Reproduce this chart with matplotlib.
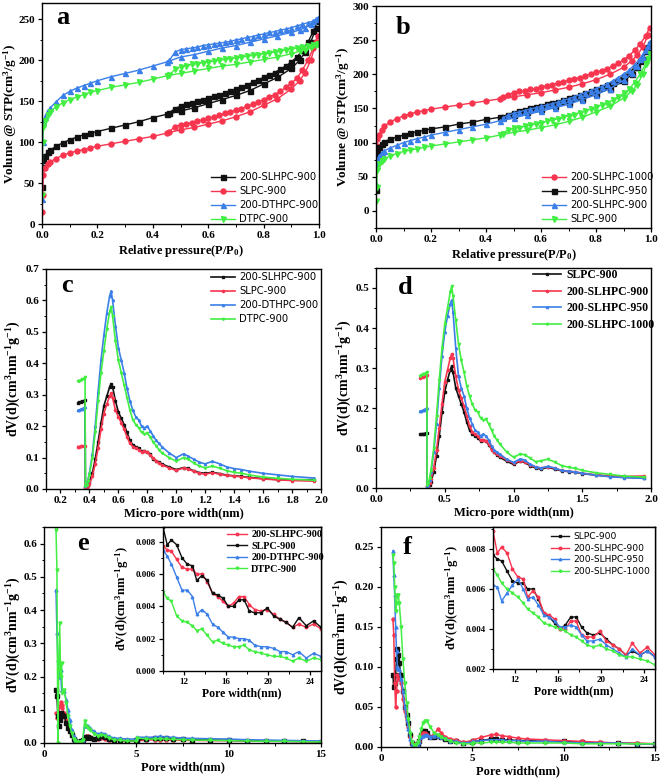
import numpy as np
import matplotlib
matplotlib.use("Agg")
import matplotlib.pyplot as plt
from matplotlib.ticker import MultipleLocator

plt.rcParams['font.family'] = ['Liberation Serif', 'DejaVu Serif']
plt.rcParams['font.weight'] = 'bold'
plt.rcParams['mathtext.fontset'] = 'custom'
plt.rcParams['mathtext.rm'] = 'Liberation Serif:bold'
plt.rcParams['mathtext.bf'] = 'Liberation Serif:bold'
plt.rcParams['mathtext.default'] = 'rm'

# ---------------- data: N2 isotherms ----------------
ADS_P = [0.0005, 0.002, 0.005, 0.01, 0.02, 0.03, 0.05, 0.075, 0.1, 0.125, 0.15, 0.175, 0.2, 0.25, 0.3,
         0.35, 0.4, 0.45, 0.5, 0.55, 0.6, 0.65, 0.7, 0.75, 0.8, 0.85, 0.9, 0.93, 0.95, 0.97, 0.99]
DES_P = [0.995, 0.98, 0.96, 0.94, 0.92, 0.9, 0.88, 0.86, 0.84, 0.82, 0.8, 0.78, 0.76, 0.74, 0.72, 0.7,
         0.68, 0.66, 0.64, 0.62, 0.6, 0.58, 0.56, 0.54, 0.52, 0.5, 0.48, 0.46]

SLHPC900_ADS = [45, 70, 78, 83, 88, 90, 95, 99, 103, 106, 109, 111, 113, 117, 121, 125, 130, 134, 138, 142,
                147, 152, 157, 163, 171, 179, 190, 200, 210, 222, 240]
SLHPC900_DES = [248, 236, 222, 212, 204, 198, 193, 189, 185, 182, 179, 176, 173, 170, 167, 165, 162, 160,
                158, 156, 154, 152, 150, 148, 146, 144, 141, 136]
SLPC900_ADS = [15, 35, 60, 68, 73, 76, 80, 84, 87, 89, 91, 93, 95, 98, 101, 104, 107, 111, 115, 118, 122,
               126, 131, 137, 145, 153, 165, 175, 185, 200, 222]
SLPC900_DES = [230, 215, 200, 188, 178, 172, 167, 162, 158, 155, 152, 149, 146, 144, 141, 139, 137, 135,
               133, 131, 129, 127, 126, 124, 122, 121, 119, 113]
DTHPC900_ADS = [30, 100, 125, 131, 138, 142, 149, 157, 162, 166, 169, 172, 175, 180, 184, 188, 193, 198,
                204, 207, 211, 215, 218, 222, 226, 230, 234, 237, 240, 244, 250]
DTHPC900_DES = [252, 248, 246, 244, 242, 240, 238, 237, 235, 234, 232, 231, 229, 228, 226, 225, 223, 222,
                221, 220, 219, 218, 216, 215, 214, 213, 210, 200]
DTPC900_ADS = [35, 100, 118, 126, 133, 137, 143, 148, 152, 155, 158, 161, 163, 167, 170, 173, 177, 181,
               184, 187, 190, 193, 195, 198, 201, 204, 208, 211, 213, 216, 219]
DTPC900_DES = [220, 219, 218, 216, 215, 214, 213, 211, 210, 209, 208, 207, 206, 205, 204, 203, 202, 201,
               200, 199, 198, 197, 196, 195, 193, 192, 189, 182]
SLHPC1000_ADS = [70, 95, 105, 111, 119, 124, 130, 135, 139, 142, 145, 147, 149, 152, 155, 158, 161, 164,
                 167, 170, 173, 177, 181, 186, 192, 200, 210, 220, 228, 240, 258]
SLHPC1000_DES = [268, 256, 244, 235, 227, 221, 216, 212, 208, 205, 203, 200, 198, 195, 193, 191, 189, 187,
                 185, 183, 181, 179, 178, 176, 175, 173, 170, 167]
SLHPC950_ADS = [30, 80, 88, 93, 98, 101, 105, 108, 111, 114, 116, 118, 120, 123, 127, 130, 134, 137, 141,
                145, 149, 153, 158, 164, 171, 179, 190, 200, 210, 222, 240]
SLHPC950_DES = [245, 234, 220, 210, 202, 197, 192, 188, 184, 181, 178, 175, 172, 169, 167, 165, 162, 160,
                158, 156, 154, 152, 150, 148, 146, 144, 141, 138]
SLHPC900B_ADS = [40, 70, 76, 80, 85, 88, 92, 96, 100, 103, 106, 108, 111, 115, 119, 123, 127, 132, 136, 141,
                 146, 151, 156, 163, 170, 179, 191, 202, 212, 225, 242]
SLHPC900B_DES = [248, 236, 223, 214, 206, 200, 195, 190, 186, 182, 179, 176, 173, 170, 167, 164, 162, 159,
                 157, 155, 153, 151, 149, 147, 145, 143, 140, 136]

# ---------------- data: micropore PSD (panels c, d) ----------------
MICRO_W = [0.32, 0.33, 0.34, 0.35, 0.36, 0.37, 0.372, 0.38, 0.39, 0.40, 0.42, 0.44, 0.46, 0.48, 0.50, 0.52,
           0.54, 0.55, 0.56, 0.58, 0.60, 0.62, 0.64, 0.66, 0.68, 0.70, 0.72, 0.74, 0.76, 0.78, 0.80, 0.82,
           0.84, 0.86, 0.88, 0.90, 0.95, 1.00, 1.05, 1.08, 1.12, 1.16, 1.20, 1.25, 1.30, 1.35, 1.40, 1.45,
           1.50, 1.60, 1.70, 1.80, 1.95]
MIC_SLHPC900 = [0.275, 0.277, 0.278, 0.279, 0.280, 0.283, 0.005, 0.006, 0.012, 0.022, 0.05, 0.095, 0.15, 0.21,
                0.265, 0.295, 0.325, 0.335, 0.325, 0.28, 0.245, 0.225, 0.205, 0.18, 0.155, 0.14, 0.135, 0.13,
                0.12, 0.12, 0.118, 0.11, 0.095, 0.09, 0.085, 0.08, 0.07, 0.062, 0.068, 0.066, 0.058, 0.052,
                0.05, 0.053, 0.049, 0.044, 0.042, 0.04, 0.037, 0.033, 0.03, 0.029, 0.03]
MIC_SLPC900 = [0.135, 0.135, 0.136, 0.136, 0.137, 0.138, 0.004, 0.004, 0.008, 0.015, 0.04, 0.08, 0.13, 0.19,
               0.24, 0.27, 0.295, 0.305, 0.29, 0.25, 0.23, 0.21, 0.19, 0.165, 0.145, 0.135, 0.13, 0.125, 0.118,
               0.12, 0.117, 0.108, 0.098, 0.09, 0.082, 0.077, 0.067, 0.059, 0.067, 0.064, 0.056, 0.05, 0.047,
               0.052, 0.047, 0.043, 0.041, 0.039, 0.036, 0.032, 0.029, 0.027, 0.025]
MIC_DTHPC900 = [0.250, 0.252, 0.254, 0.256, 0.258, 0.262, 0.01, 0.015, 0.03, 0.05, 0.11, 0.2, 0.31, 0.41,
                0.49, 0.56, 0.615, 0.63, 0.6, 0.52, 0.45, 0.41, 0.37, 0.32, 0.28, 0.25, 0.23, 0.22, 0.2, 0.195,
                0.2, 0.185, 0.17, 0.155, 0.145, 0.135, 0.115, 0.1, 0.112, 0.105, 0.095, 0.085, 0.08, 0.088,
                0.08, 0.07, 0.065, 0.062, 0.057, 0.05, 0.045, 0.04, 0.035]
MIC_DTPC900 = [0.343, 0.345, 0.347, 0.349, 0.351, 0.355, 0.01, 0.014, 0.027, 0.045, 0.1, 0.18, 0.28, 0.37,
               0.44, 0.51, 0.565, 0.58, 0.55, 0.47, 0.41, 0.37, 0.33, 0.29, 0.25, 0.22, 0.205, 0.195, 0.18,
               0.175, 0.178, 0.165, 0.15, 0.138, 0.125, 0.115, 0.1, 0.088, 0.1, 0.095, 0.083, 0.073, 0.067,
               0.073, 0.066, 0.058, 0.053, 0.05, 0.045, 0.038, 0.034, 0.031, 0.028]
MIC_SLHPC950 = [0.192, 0.193, 0.194, 0.196, 0.198, 0.200, 0.005, 0.008, 0.02, 0.04, 0.09, 0.16, 0.25, 0.33,
                0.39, 0.43, 0.46, 0.47, 0.44, 0.35, 0.28, 0.25, 0.23, 0.2, 0.175, 0.16, 0.145, 0.14, 0.13,
                0.135, 0.13, 0.12, 0.105, 0.095, 0.09, 0.085, 0.072, 0.064, 0.073, 0.07, 0.06, 0.053, 0.05,
                0.054, 0.05, 0.044, 0.042, 0.04, 0.037, 0.032, 0.028, 0.026, 0.024]
MIC_SLHPC1000 = [0.280, 0.282, 0.284, 0.285, 0.287, 0.290, 0.008, 0.013, 0.025, 0.045, 0.1, 0.18, 0.27, 0.35,
                 0.41, 0.45, 0.49, 0.505, 0.48, 0.42, 0.36, 0.32, 0.29, 0.255, 0.23, 0.21, 0.195, 0.19, 0.175,
                 0.17, 0.172, 0.16, 0.145, 0.13, 0.12, 0.11, 0.09, 0.077, 0.085, 0.083, 0.075, 0.066, 0.068,
                 0.072, 0.065, 0.056, 0.052, 0.049, 0.044, 0.038, 0.034, 0.03, 0.027]

# ---------------- data: full PSD (panels e, f) ----------------
PORE_W = [0.65, 0.7, 0.75, 0.8, 0.85, 0.9, 0.95, 1.0, 1.1, 1.2, 1.3, 1.4, 1.5, 1.6, 1.7, 1.8, 1.9, 2.0,
          2.1, 2.2, 2.3, 2.4, 2.5, 2.7, 2.9, 3.1, 3.3, 3.5, 3.8, 4.1, 4.5, 5.0, 5.05, 5.5, 6.0, 6.3, 6.6,
          7.0, 7.5, 8.0, 9.0, 10.0, 11.0, 12.0, 13.0, 14.0, 15.0]
PSD_SLHPC900 = [0.16, 0.14, 0.08, 0.05, 0.07, 0.09, 0.085, 0.085, 0.08, 0.06, 0.045, 0.035, 0.025, 0.012,
                0.005, 0.002, 0.003, 0.005, 0.008, 0.015, 0.018, 0.017, 0.015, 0.012, 0.016, 0.022, 0.018,
                0.013, 0.01, 0.009, 0.006, 0.008, 0.009, 0.012, 0.015, 0.016, 0.014, 0.013, 0.011, 0.01,
                0.009, 0.008, 0.007, 0.006, 0.005, 0.005, 0.004]
PSD_SLPC900 = [0.09, 0.075, 0.08, 0.09, 0.11, 0.122, 0.115, 0.105, 0.09, 0.07, 0.05, 0.04, 0.03, 0.015,
               0.005, 0.002, 0.003, 0.004, 0.007, 0.015, 0.02, 0.02, 0.018, 0.012, 0.012, 0.014, 0.013, 0.01,
               0.008, 0.007, 0.005, 0.006, 0.007, 0.008, 0.01, 0.01, 0.009, 0.009, 0.008, 0.008, 0.007,
               0.007, 0.006, 0.005, 0.005, 0.004, 0.004]
PSD_DTHPC900 = [0.46, 0.33, 0.25, 0.22, 0.2, 0.22, 0.16, 0.16, 0.155, 0.13, 0.1, 0.07, 0.04, 0.02, 0.008,
                0.005, 0.004, 0.004, 0.01, 0.05, 0.055, 0.05, 0.045, 0.035, 0.028, 0.03, 0.028, 0.02, 0.015,
                0.014, 0.012, 0.012, 0.018, 0.017, 0.018, 0.02, 0.018, 0.017, 0.015, 0.014, 0.013, 0.012,
                0.01, 0.009, 0.008, 0.007, 0.006]
PSD_DTPC900 = [0.64, 0.52, 0.0, 0.22, 0.36, 0.2, 0.24, 0.15, 0.16, 0.12, 0.08, 0.05, 0.03, 0.012, 0.005,
               0.003, 0.003, 0.004, 0.01, 0.065, 0.05, 0.045, 0.04, 0.028, 0.022, 0.025, 0.022, 0.015, 0.01,
               0.008, 0.006, 0.006, 0.015, 0.012, 0.012, 0.013, 0.012, 0.011, 0.01, 0.009, 0.008, 0.007,
               0.006, 0.005, 0.005, 0.004, 0.003]
PSD_SLHPC950 = [0.245, 0.215, 0.19, 0.15, 0.12, 0.1, 0.098, 0.097, 0.085, 0.07, 0.05, 0.035, 0.022, 0.01,
                0.004, 0.002, 0.002, 0.003, 0.006, 0.012, 0.014, 0.015, 0.015, 0.013, 0.014, 0.014, 0.013,
                0.011, 0.008, 0.007, 0.005, 0.006, 0.007, 0.008, 0.009, 0.009, 0.009, 0.008, 0.008, 0.007,
                0.007, 0.006, 0.005, 0.005, 0.005, 0.004, 0.004]
PSD_SLHPC1000 = [0.24, 0.23, 0.2, 0.17, 0.18, 0.19, 0.19, 0.18, 0.15, 0.11, 0.08, 0.055, 0.035, 0.018,
                 0.006, 0.002, 0.003, 0.006, 0.012, 0.022, 0.03, 0.033, 0.033, 0.025, 0.018, 0.015, 0.013,
                 0.01, 0.007, 0.005, 0.004, 0.004, 0.005, 0.005, 0.006, 0.006, 0.006, 0.006, 0.005, 0.005,
                 0.005, 0.005, 0.004, 0.004, 0.004, 0.004, 0.004]

# ---------------- data: insets (10-25 nm) ----------------
INSET_W = [10.0, 10.4, 10.8, 11.3, 11.8, 12.3, 12.8, 13.2, 13.7, 14.2, 14.7, 15.2, 15.7, 16.2, 16.7, 17.2,
           17.7, 18.2, 18.7, 19.3, 19.9, 20.5, 21.1, 21.7, 22.3, 22.9, 23.6, 24.3, 25.0]
INS_A = [0.0089, 0.0078, 0.0081, 0.0078, 0.0070, 0.0066, 0.0065, 0.0056, 0.0059, 0.0056, 0.0048, 0.0047,
         0.0045, 0.0040, 0.0040, 0.0044, 0.0044, 0.0037, 0.0036, 0.0036, 0.0039, 0.0034, 0.0032, 0.0030,
         0.0027, 0.0033, 0.0028, 0.0031, 0.0027]
INS_B = [0.0077, 0.0075, 0.0074, 0.0069, 0.0064, 0.0063, 0.0063, 0.0060, 0.0060, 0.0055, 0.0048, 0.0046,
         0.0043, 0.0040, 0.0042, 0.0046, 0.0046, 0.0041, 0.0038, 0.0037, 0.0038, 0.0035, 0.0032, 0.0030,
         0.0027, 0.0029, 0.0027, 0.0029, 0.0026]
INS_DTHPC900 = [0.0075, 0.0071, 0.0066, 0.0058, 0.0050, 0.0050, 0.0046, 0.0035, 0.0038, 0.0035, 0.0029,
                0.0027, 0.0024, 0.0021, 0.0021, 0.0020, 0.0020, 0.0019, 0.0016, 0.0015, 0.0015, 0.0014,
                0.0012, 0.0012, 0.0010, 0.0012, 0.0008, 0.0011, 0.0009]
INS_DTPC900 = [0.0049, 0.0045, 0.0043, 0.0034, 0.0031, 0.0030, 0.0028, 0.0025, 0.0026, 0.0022, 0.0018,
               0.0019, 0.0017, 0.0016, 0.0015, 0.0015, 0.0016, 0.0013, 0.0012, 0.0011, 0.0010, 0.0009,
               0.0009, 0.0008, 0.0006, 0.0008, 0.0006, 0.0008, 0.0007]
INS_SLHPC950 = [0.0062, 0.0061, 0.0054, 0.0058, 0.0062, 0.0065, 0.0060, 0.0055, 0.0056, 0.0052, 0.0047,
                0.0046, 0.0044, 0.0041, 0.0041, 0.0042, 0.0041, 0.0037, 0.0034, 0.0034, 0.0035, 0.0032,
                0.0030, 0.0028, 0.0026, 0.0030, 0.0027, 0.0029, 0.0026]
INS_SLHPC1000 = [0.0070, 0.0067, 0.0063, 0.0060, 0.0058, 0.0056, 0.0053, 0.0050, 0.0048, 0.0046, 0.0043,
                 0.0042, 0.0041, 0.0040, 0.0039, 0.0037, 0.0036, 0.0034, 0.0032, 0.0031, 0.0032, 0.0030,
                 0.0029, 0.0027, 0.0026, 0.0026, 0.0025, 0.0024, 0.0022]

BLACK = '#111111'
RED = '#f8354f'
BLUE = '#3b7fe8'
GREEN = '#42ee42'

W, H = 661, 779
fig = plt.figure(figsize=(W / 100, H / 100), dpi=100)


def add_ax(l, t, r, b):
    return fig.add_axes([l / W, 1 - b / H, (r - l) / W, (b - t) / H])


def style(ax, xmaj, xmin, ymaj, ymin, tsize=8):
    ax.xaxis.set_major_locator(MultipleLocator(xmaj))
    ax.xaxis.set_minor_locator(MultipleLocator(xmin))
    ax.yaxis.set_major_locator(MultipleLocator(ymaj))
    ax.yaxis.set_minor_locator(MultipleLocator(ymin))
    ax.tick_params(which='major', direction='out', length=3, width=0.9, labelsize=tsize, pad=2,
                   top=False, right=False)
    ax.tick_params(which='minor', direction='out', length=1.8, width=0.7, top=False, right=False)
    for s in ax.spines.values():
        s.set_linewidth(1.0)
    for lab in ax.get_xticklabels() + ax.get_yticklabels():
        lab.set_fontweight('bold')


def ylab(ax, text, size, right_px, top, bottom):
    ax.set_ylabel(text, fontsize=size, fontweight='bold')
    ax.yaxis.set_label_coords(right_px / W, 1 - (top + bottom) / 2 / H, transform=fig.transFigure)


def legend(ax, x, y, fam, weight, size, spacing, hl=2.4):
    leg = ax.legend(loc='upper left', bbox_to_anchor=(x / W, 1 - y / H), bbox_transform=fig.transFigure,
                    frameon=False, handlelength=hl, handletextpad=0.4, borderpad=0, borderaxespad=0,
                    labelspacing=spacing, prop={'family': fam, 'weight': weight, 'size': size})
    return leg


VOL_LABEL = r'Volume @ STP(cm$^{3}$/g$^{-1}$)'
DV_LABEL = r'dV(d)(cm$^{3}$nm$^{-1}$g$^{-1}$)'
iso_kw = dict(lw=1.0, ms=3.6)

# ---------------- panel a ----------------
ax = add_ax(42, 3, 319, 224)
for ads, des, c, m, lab in [(SLHPC900_ADS, SLHPC900_DES, BLACK, 's', '200-SLHPC-900'),
                            (SLPC900_ADS, SLPC900_DES, RED, 'o', 'SLPC-900'),
                            (DTHPC900_ADS, DTHPC900_DES, BLUE, '^', '200-DTHPC-900'),
                            (DTPC900_ADS, DTPC900_DES, GREEN, 'v', 'DTPC-900')]:
    ax.plot(ADS_P, ads, color=c, marker=m, label=lab, **iso_kw)
    ax.plot(DES_P, des, color=c, marker=m, **iso_kw)
ax.set_xlim(0, 1.0)
ax.set_ylim(0, 270)
style(ax, 0.2, 0.1, 50, 25)
ax.set_xlabel('Relative pressure(P/P$_{0}$)', fontsize=9, fontweight='bold', labelpad=2)
ylab(ax, VOL_LABEL, 9.5, 19, 3, 224)
legend(ax, 211, 172, 'DejaVu Sans', 'normal', 7.2, 0.4)
fig.text(63 / W, 1 - 18 / H, 'a', fontsize=19, fontweight='bold', ha='center', va='center')

# ---------------- panel b ----------------
ax = add_ax(376, 6, 651, 228)
for ads, des, c, m, lab in [(SLHPC1000_ADS, SLHPC1000_DES, RED, 'o', '200-SLHPC-1000'),
                            (SLHPC950_ADS, SLHPC950_DES, BLACK, 's', '200-SLHPC-950'),
                            (SLHPC900B_ADS, SLHPC900B_DES, BLUE, '^', '200-SLHPC-900'),
                            (SLPC900_ADS, SLPC900_DES, GREEN, 'v', 'SLPC-900')]:
    ax.plot(ADS_P, ads, color=c, marker=m, label=lab, **iso_kw)
    ax.plot(DES_P, des, color=c, marker=m, **iso_kw)
ax.set_xlim(0, 1.0)
ax.set_ylim(-25, 300)
style(ax, 0.2, 0.1, 50, 25)
ax.set_xlabel('Relative pressure(P/P$_{0}$)', fontsize=9, fontweight='bold', labelpad=2)
ylab(ax, VOL_LABEL, 9.5, 352, 6, 228)
legend(ax, 542, 172, 'DejaVu Sans', 'normal', 7.2, 0.4)
fig.text(403 / W, 1 - 27 / H, 'b', fontsize=19, fontweight='bold', ha='center', va='center')

psd_kw = dict(lw=1.2, ms=1.6)

# ---------------- panel c ----------------
ax = add_ax(46, 269, 321, 489)
for y, c, m, lab in [(MIC_SLHPC900, BLACK, 's', '200-SLHPC-900'), (MIC_SLPC900, RED, 'o', 'SLPC-900'),
                     (MIC_DTHPC900, BLUE, '^', '200-DTHPC-900'), (MIC_DTPC900, GREEN, 'v', 'DTPC-900')]:
    ax.plot(MICRO_W, y, color=c, marker=m, label=lab, **psd_kw)
ax.set_xlim(0.1, 2.0)
ax.set_ylim(0, 0.7)
style(ax, 0.2, 0.1, 0.1, 0.05)
ax.set_xlabel('Micro-pore width(nm)', fontsize=9, fontweight='bold', labelpad=2)
ylab(ax, DV_LABEL, 10, 23, 269, 489)
legend(ax, 211, 272, 'DejaVu Sans', 'normal', 7.2, 0.4)
fig.text(67 / W, 1 - 285 / H, 'c', fontsize=19, fontweight='bold', ha='center', va='center')

# ---------------- panel d ----------------
ax = add_ax(376, 268, 651, 488)
for y, c, m, lab in [(MIC_SLPC900, BLACK, 's', 'SLPC-900'), (MIC_SLHPC900, RED, 'o', '200-SLHPC-900'),
                     (MIC_SLHPC950, BLUE, '^', '200-SLHPC-950'), (MIC_SLHPC1000, GREEN, 'v', '200-SLHPC-1000')]:
    ax.plot(MICRO_W, y, color=c, marker=m, label=lab, **psd_kw)
ax.set_xlim(0, 2.0)
ax.set_ylim(0, 0.55)
style(ax, 0.5, 0.25, 0.1, 0.05)
ax.set_xlabel('Micro-pore width(nm)', fontsize=9, fontweight='bold', labelpad=2)
ylab(ax, DV_LABEL, 10, 354, 268, 488)
legend(ax, 533, 269, 'Liberation Serif', 'bold', 8.5, 0.4)
fig.text(405 / W, 1 - 288 / H, 'd', fontsize=19, fontweight='bold', ha='center', va='center')

# ---------------- panel e ----------------
ax = add_ax(44, 527, 321, 743)
for y, c, m in [(PSD_SLPC900, RED, 'o'), (PSD_SLHPC900, BLACK, 's'),
                (PSD_DTHPC900, BLUE, '^'), (PSD_DTPC900, GREEN, 'v')]:
    ax.plot(PORE_W, y, color=c, marker=m, lw=1.1, ms=2.2)
ax.set_xlim(0, 15)
ax.set_ylim(0, 0.65)
style(ax, 5, 2.5, 0.1, 0.05)
ax.set_xlabel('Pore width(nm)', fontsize=9, fontweight='bold', labelpad=2)
ylab(ax, DV_LABEL, 10, 23, 527, 743)
fig.text(83 / W, 1 - 543 / H, 'e', fontsize=19, fontweight='bold', ha='center', va='center')

ins = add_ax(163, 527, 321, 671)
for y, c, m, lab in [(INS_B, RED, 'o', '200-SLHPC-900'), (INS_A, BLACK, 's', 'SLPC-900'),
                     (INS_DTHPC900, BLUE, '^', '200-DTHPC-900'), (INS_DTPC900, GREEN, 'v', 'DTPC-900')]:
    ins.plot(INSET_W, y, color=c, marker=m, lw=1.0, ms=1.8, label=lab)
ins.set_xlim(10, 25)
ins.set_ylim(0, 0.0089)
style(ins, 4, 2, 0.002, 0.001, tsize=6.5)
ins.set_xlabel('Pore width(nm)', fontsize=8.5, fontweight='bold', labelpad=1)
ylab(ins, DV_LABEL, 9, 131, 527, 671)
legend(ins, 227, 530, 'Liberation Serif', 'bold', 7.3, 0.25, hl=2.0)

# ---------------- panel f ----------------
ax = add_ax(381, 527, 655, 747)
for y, c, m in [(PSD_SLPC900, BLACK, 's'), (PSD_SLHPC900, RED, 'o'),
                (PSD_SLHPC950, BLUE, '^'), (PSD_SLHPC1000, GREEN, 'v')]:
    ax.plot(PORE_W, y, color=c, marker=m, lw=1.1, ms=2.2)
ax.set_xlim(0, 15)
ax.set_ylim(0, 0.275)
style(ax, 5, 2.5, 0.05, 0.025)
ax.set_xlabel('Pore width(nm)', fontsize=9, fontweight='bold', labelpad=2)
ylab(ax, DV_LABEL, 10, 351, 527, 747)
fig.text(407 / W, 1 - 548 / H, 'f', fontsize=19, fontweight='bold', ha='center', va='center')

ins = add_ax(493, 527, 655, 669)
for y, c, m, lab in [(INS_B, BLACK, 's', 'SLPC-900'), (INS_A, RED, 'o', '200-SLHPC-900'),
                     (INS_SLHPC950, BLUE, '^', '200-SLHPC-950'), (INS_SLHPC1000, GREEN, 'v', '200-SLHPC-1000')]:
    ins.plot(INSET_W, y, color=c, marker=m, lw=1.0, ms=1.8, label=lab)
ins.set_xlim(10, 25)
ins.set_ylim(0.002, 0.0091)
style(ins, 4, 2, 0.002, 0.001, tsize=6.5)
ins.set_xlabel('Pore width(nm)', fontsize=8.5, fontweight='bold', labelpad=1)
ylab(ins, DV_LABEL, 9, 461, 527, 669)
legend(ins, 551, 532, 'DejaVu Sans', 'normal', 6.6, 0.3, hl=2.0)

fig.savefig('out.png', dpi=100)
